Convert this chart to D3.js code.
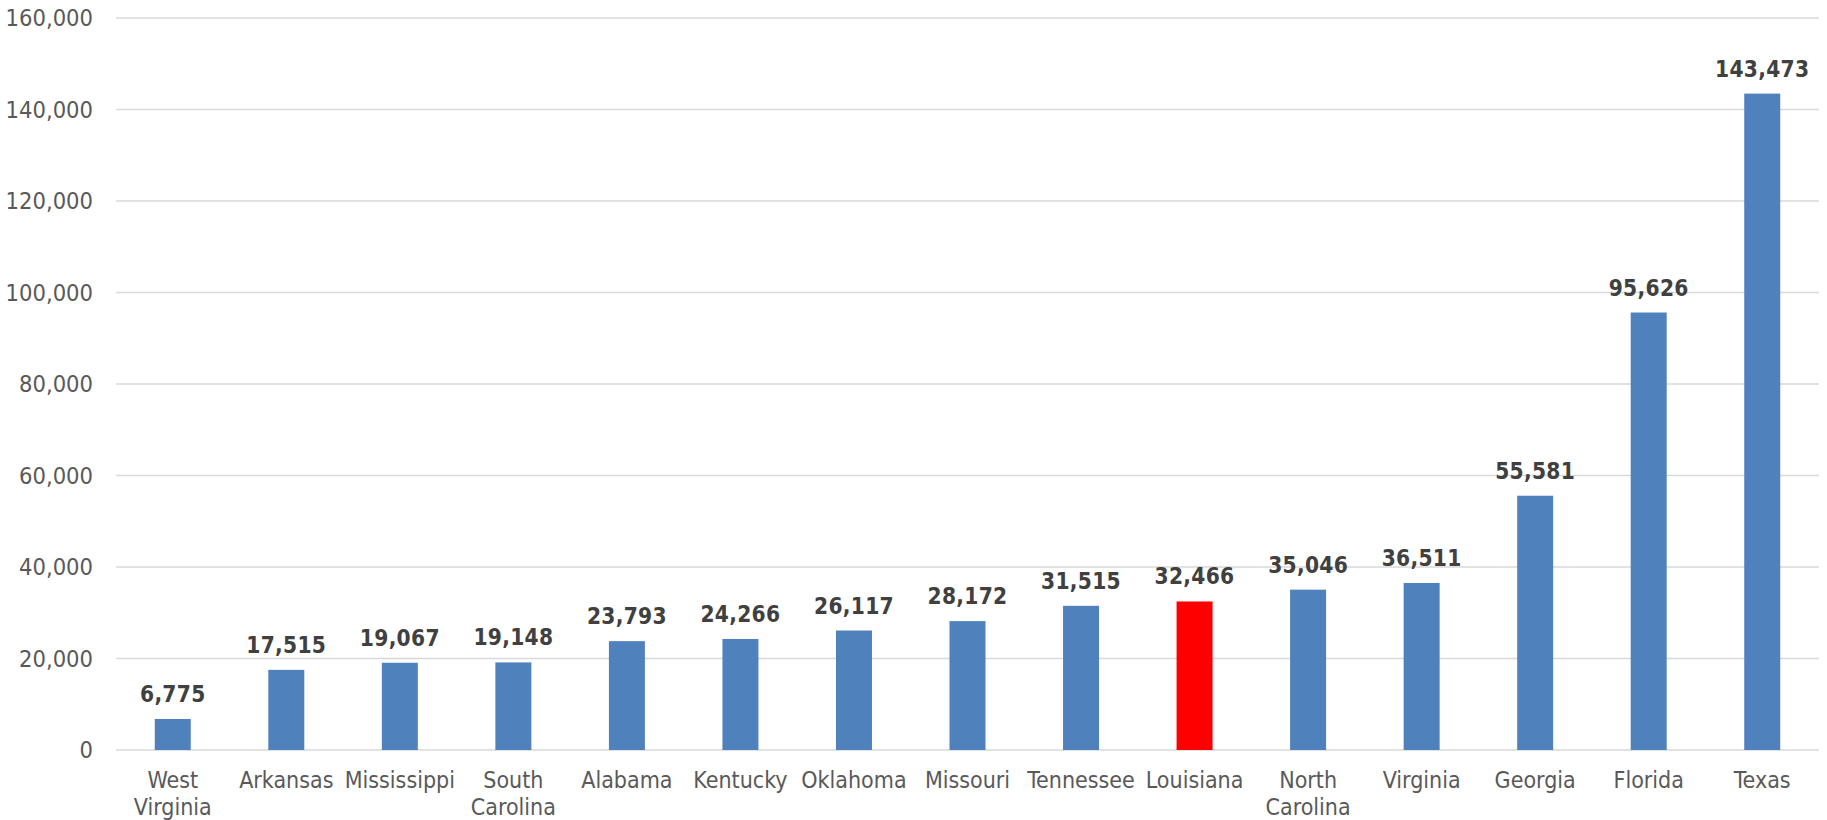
<!DOCTYPE html>
<html>
<head>
<meta charset="utf-8">
<script src="https://cdn.jsdelivr.net/npm/d3@7"></script>
<style>
  html, body { margin: 0; padding: 0; background: #fff; }
  svg { display: block; }
  .lbl { font-family: "DejaVu Sans Condensed", "DejaVu Sans", sans-serif; font-stretch: condensed; }
</style>
</head>
<body>
<svg id="chart" width="1827" height="820"></svg>
<script>
// States, ordered by value
const states = ["West\nVirginia", "Arkansas", "Mississippi", "South\nCarolina", "Alabama", "Kentucky",
  "Oklahoma", "Missouri", "Tennessee", "Louisiana", "North\nCarolina", "Virginia", "Georgia", "Florida", "Texas"];
const values = [6775, 17515, 19067, 19148, 23793, 24266, 26117, 28172, 31515, 32466, 35046, 36511, 55581, 95626, 143473];
const highlighted = ["Louisiana"];
const yTicks = [0, 20000, 40000, 60000, 80000, 100000, 120000, 140000, 160000];

const svg = d3.select("#chart");
const margin = { top: 18, right: 8, bottom: 70, left: 116 };
const W = 1827, H = 820;

const x = d3.scaleBand()
  .domain(states)
  .range([margin.left, W - margin.right])
  .paddingInner(0.683)
  .paddingOuter(0.3415);

const y = d3.scaleLinear()
  .domain([0, 160000])
  .range([H - margin.bottom, margin.top]);

const fmt = d3.format(",");

// Horizontal gridlines
svg.append("g")
  .selectAll("line")
  .data(yTicks)
  .join("line")
  .attr("x1", margin.left)
  .attr("x2", W - margin.right)
  .attr("y1", d => y(d))
  .attr("y2", d => y(d))
  .attr("stroke", "#d9d9d9")
  .attr("stroke-width", 1.5);

// Y axis labels
const yAxis = d3.axisLeft(y).tickValues(yTicks).tickFormat(fmt).tickSize(0).tickPadding(23);
const yg = svg.append("g").attr("transform", `translate(${margin.left},0)`).call(yAxis);
yg.select(".domain").remove();
yg.selectAll("text")
  .attr("class", "lbl")
  .attr("font-size", 23.5)
  .attr("fill", "#595959");

// Bars
svg.append("g")
  .selectAll("rect")
  .data(states)
  .join("rect")
  .attr("x", d => x(d))
  .attr("width", x.bandwidth())
  .attr("y", (d, i) => y(values[i]))
  .attr("height", (d, i) => y(0) - y(values[i]))
  .attr("fill", d => highlighted.includes(d) ? "#ff0000" : "#4f81bd");

// Value labels
svg.append("g")
  .selectAll("text")
  .data(states)
  .join("text")
  .attr("class", "lbl")
  .attr("x", d => x(d) + x.bandwidth() / 2)
  .attr("y", (d, i) => y(values[i]) - 17)
  .attr("text-anchor", "middle")
  .attr("font-size", 22.5)
  .attr("font-weight", "bold")
  .attr("letter-spacing", 0.3)
  .attr("fill", "#404040")
  .text((d, i) => fmt(values[i]));

// X axis category labels (multi-line)
const xl = svg.append("g")
  .selectAll("text")
  .data(states)
  .join("text")
  .attr("class", "lbl")
  .attr("x", d => x(d) + x.bandwidth() / 2)
  .attr("y", y(0) + 38)
  .attr("text-anchor", "middle")
  .attr("font-size", 23)
  .attr("fill", "#595959");
xl.each(function (d) {
  const t = d3.select(this);
  d.split("\n").forEach((line, k) => {
    t.append("tspan")
      .attr("x", t.attr("x"))
      .attr("dy", k === 0 ? 0 : 27)
      .text(line);
  });
});
</script>
</body>
</html>
